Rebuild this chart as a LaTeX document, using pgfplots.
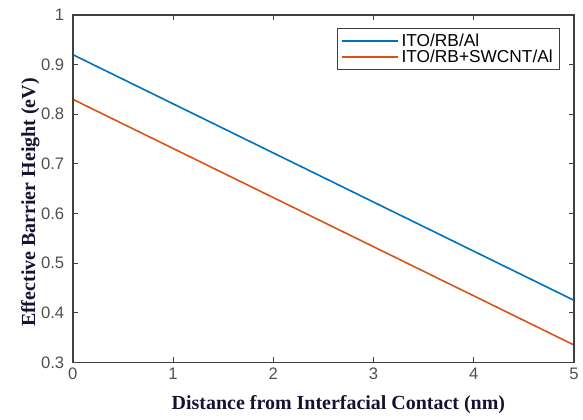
\documentclass[border=0pt]{standalone}
\usepackage{pgfplots}
\pgfplotsset{compat=1.18}
\usetikzlibrary{calc}
\usepackage{fontspec}
\setmainfont{Liberation Sans}
\newfontfamily\labelfont{Liberation Serif}
\definecolor{mblue}{RGB}{0,114,189}
\definecolor{morange}{RGB}{217,83,25}
\definecolor{axgray}{RGB}{64,64,64}
\definecolor{ticktext}{RGB}{80,80,80}
\definecolor{labnavy}{RGB}{20,20,50}
\pgfplotsset{
    longline/.style={legend image code/.code={\draw[##1] (0pt,0pt) -- (42pt,0pt);}},
}
\begin{document}
\begin{tikzpicture}
\begin{axis}[
    scale only axis,
    width=376.5pt, height=261pt,
    axis lines=box,
    xmin=0, xmax=5, ymin=0.3, ymax=1,
    xtick={0,1,2,3,4,5},
    ytick={0.3,0.4,0.5,0.6,0.7,0.8,0.9,1},
    yticklabels={0.3,0.4,0.5,0.6,0.7,0.8,0.9,1},
    tick align=inside,
    major tick length=4pt,
    axis line style={axgray, line width=1pt},
    every tick/.style={axgray, line width=0.8pt},
    tick label style={font=\fontsize{12.5}{14}\selectfont, text=ticktext},
    xticklabel style={yshift=-1pt},
    yticklabel style={xshift=-3pt},
    /pgf/number format/assume math mode=true,
    xlabel={\labelfont\bfseries Distance from Interfacial Contact (nm)},
    ylabel={\labelfont\bfseries Effective Barrier Height (eV)},
    label style={font=\fontsize{15}{17}\selectfont, text=labnavy},
    xlabel style={at={(axis description cs:0.53,-0.121)}, anchor=center},
    ylabel style={at={(axis description cs:-0.085,0.46)}, anchor=center},
    legend style={at={(0.972,0.963)}, anchor=north east, draw=axgray, line width=0.8pt,
        font=\fontsize{13}{14}\selectfont, row sep=-3pt, inner xsep=3pt, inner ysep=2pt},
    legend cell align=left,
    longline,
]
\addplot[mblue, line width=1.2pt] coordinates {(0,0.920) (5,0.425)};
\addplot[morange, line width=1.2pt] coordinates {(0,0.830) (5,0.335)};
\legend{ITO/RB/Al, ITO/RB+SWCNT/Al}
\coordinate (ur) at (rel axis cs:1,1);
\coordinate (ll) at (rel axis cs:0,0);
\end{axis}
\draw[axgray, line width=1pt] (ll) rectangle (ur);
\path ($(ur)+(6pt,11.25pt)$);
\path ($(ll)+(-54.75pt,-42.75pt)$);
\end{tikzpicture}
\end{document}
